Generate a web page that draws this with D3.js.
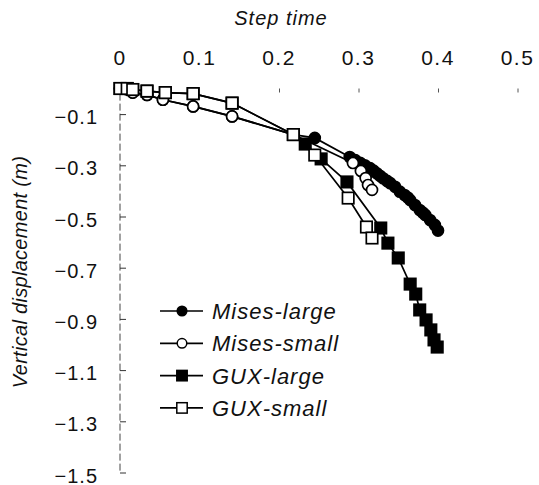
<!DOCTYPE html>
<html>
<head>
<meta charset="utf-8">
<script src="https://cdn.jsdelivr.net/npm/d3@7"></script>
<style>
  body { margin: 0; background: #fff; }
  svg { font-family: "Liberation Sans", Arial, sans-serif; }
</style>
</head>
<body>
<svg width="539" height="485"></svg>
<script>
// step time / vertical displacement
const misesLargeT = [0, 0.009, 0.016, 0.034, 0.054, 0.092, 0.141, 0.218, 0.245, 0.289, 0.296, 0.302, 0.308, 0.3145, 0.319, 0.323, 0.327, 0.331, 0.336, 0.34, 0.346, 0.352, 0.358, 0.362, 0.365, 0.371, 0.377, 0.381, 0.384, 0.39, 0.396, 0.4];
const misesLargeV = [0, -0.003, -0.016, -0.025, -0.044, -0.07, -0.109, -0.18, -0.193, -0.268, -0.28, -0.29, -0.3, -0.311, -0.321, -0.331, -0.341, -0.351, -0.361, -0.37, -0.384, -0.403, -0.416, -0.426, -0.436, -0.455, -0.475, -0.485, -0.494, -0.514, -0.533, -0.555];

const misesSmallT = [0, 0.009, 0.016, 0.034, 0.054, 0.092, 0.141, 0.218, 0.293, 0.303, 0.309, 0.312, 0.317];
const misesSmallV = [0, -0.003, -0.016, -0.025, -0.044, -0.07, -0.109, -0.18, -0.291, -0.322, -0.35, -0.377, -0.396];

const guxLargeT = [0, 0.009, 0.016, 0.034, 0.057, 0.092, 0.141, 0.218, 0.233, 0.253, 0.2855, 0.328, 0.337, 0.35, 0.365, 0.372, 0.377, 0.385, 0.391, 0.395, 0.399];
const guxLargeV = [0, 0, -0.004, -0.01, -0.016, -0.02, -0.057, -0.18, -0.217, -0.275, -0.365, -0.545, -0.604, -0.662, -0.764, -0.803, -0.865, -0.904, -0.943, -0.982, -1.01];

const guxSmallT = [0, 0.009, 0.016, 0.034, 0.057, 0.092, 0.141, 0.218, 0.245, 0.287, 0.31, 0.317];
const guxSmallV = [0, 0, -0.004, -0.01, -0.016, -0.02, -0.057, -0.18, -0.26, -0.428, -0.541, -0.584];

const xTicks = [0, 0.1, 0.2, 0.3, 0.4, 0.5];
const yTicks = [-0.1, -0.3, -0.5, -0.7, -0.9, -1.1, -1.3, -1.5];

const seriesNames = ["Mises-large", "Mises-small", "GUX-large", "GUX-small"];

const series = [
  { name: seriesNames[0], t: misesLargeT, v: misesLargeV, shape: "circle", fill: "#000" },
  { name: seriesNames[1], t: misesSmallT, v: misesSmallV, shape: "circle", fill: "#fff" },
  { name: seriesNames[2], t: guxLargeT, v: guxLargeV, shape: "square", fill: "#000" },
  { name: seriesNames[3], t: guxSmallT, v: guxSmallV, shape: "square", fill: "#fff" }
];

const svg = d3.select("svg");

const x = d3.scaleLinear().domain([0, 0.5]).range([120, 517.5]);
const y = d3.scaleLinear().domain([0, -1.5]).range([88.5, 472.5]);

// left axis: faint broken line, ticks pointing right
svg.append("line")
  .attr("x1", x(0)).attr("x2", x(0))
  .attr("y1", y(-0.02)).attr("y2", y(-1.5))
  .attr("stroke", "#444")
  .attr("stroke-width", 1)
  .attr("stroke-dasharray", "7,3");

const yAxis = svg.append("g")
  .attr("transform", `translate(${x(0)},0)`)
  .call(d3.axisRight(y).tickValues(yTicks).tickSize(6).tickFormat(""));
yAxis.select(".domain").remove();
yAxis.selectAll(".tick line").attr("stroke", "#333");

svg.append("g")
  .selectAll("text")
  .data(yTicks)
  .join("text")
  .attr("x", 98)
  .attr("y", d => y(d) + 3)
  .attr("dy", "0.35em")
  .attr("text-anchor", "end")
  .attr("font-size", 20)
  .attr("letter-spacing", 1)
  .attr("fill", "#111")
  .text(d => "\u2212" + Math.abs(d).toFixed(1));

// top axis: only small tick marks, no line
const xAxis = svg.append("g")
  .attr("transform", `translate(0,${y(0)})`)
  .call(d3.axisBottom(x).tickValues(xTicks.slice(2)).tickSize(4).tickFormat(""));
xAxis.select(".domain").remove();
xAxis.selectAll(".tick line").attr("stroke", "#555");

svg.append("g")
  .selectAll("text")
  .data(xTicks)
  .join("text")
  .attr("x", d => x(d))
  .attr("y", 65)
  .attr("text-anchor", "middle")
  .attr("font-size", 21)
  .attr("letter-spacing", 1.5)
  .attr("fill", "#111")
  .text(d => d === 0 ? "0" : d.toFixed(1));

// titles
svg.append("text")
  .attr("x", 281)
  .attr("y", 25)
  .attr("text-anchor", "middle")
  .attr("font-size", 20)
  .attr("font-style", "italic")
  .attr("letter-spacing", 1)
  .attr("fill", "#111")
  .text("Step time");

svg.append("text")
  .attr("transform", "translate(27,272) rotate(-90)")
  .attr("text-anchor", "middle")
  .attr("font-size", 20)
  .attr("font-style", "italic")
  .attr("letter-spacing", 0.3)
  .attr("fill", "#111")
  .text("Vertical displacement (m)");

// series
const line = d3.line();

function marker(g, shape, fill) {
  if (shape === "circle") {
    g.append("circle").attr("r", 5.5);
  } else {
    g.append("rect").attr("x", -5.7).attr("y", -5.7).attr("width", 11.4).attr("height", 11.4);
  }
  g.selectAll("circle, rect")
    .attr("fill", fill)
    .attr("stroke", "#000")
    .attr("stroke-width", 1.7);
}

series.forEach(s => {
  const pts = s.t.map((t, i) => [x(t), y(s.v[i])]);
  const g = svg.append("g");
  g.append("path")
    .attr("d", line(pts))
    .attr("fill", "none")
    .attr("stroke", "#000")
    .attr("stroke-width", 1.7);
  g.selectAll("g")
    .data(pts)
    .join("g")
    .attr("transform", d => `translate(${d[0]},${d[1]})`)
    .each(function() { marker(d3.select(this), s.shape, s.fill); });
});

// legend
const legend = svg.append("g").attr("transform", "translate(160,311)");
const rows = legend.selectAll("g")
  .data(series)
  .join("g")
  .attr("transform", (d, i) => `translate(0,${i * 32.3})`);
rows.append("line")
  .attr("x1", 0).attr("x2", 43)
  .attr("stroke", "#000")
  .attr("stroke-width", 1.7);
rows.append("g")
  .attr("transform", "translate(22,0)")
  .each(function(d) {
    const g = d3.select(this);
    if (d.shape === "circle") {
      g.append("circle").attr("r", 4.8);
    } else {
      g.append("rect").attr("x", -5.2).attr("y", -5.2).attr("width", 10.4).attr("height", 10.4);
    }
    g.selectAll("circle, rect")
      .attr("fill", d.fill)
      .attr("stroke", "#000")
      .attr("stroke-width", 1.5);
  });
rows.append("text")
  .attr("x", 52)
  .attr("dy", "0.36em")
  .attr("font-size", 22)
  .attr("font-style", "italic")
  .attr("letter-spacing", 1)
  .attr("fill", "#111")
  .text(d => d.name);
</script>
</body>
</html>
